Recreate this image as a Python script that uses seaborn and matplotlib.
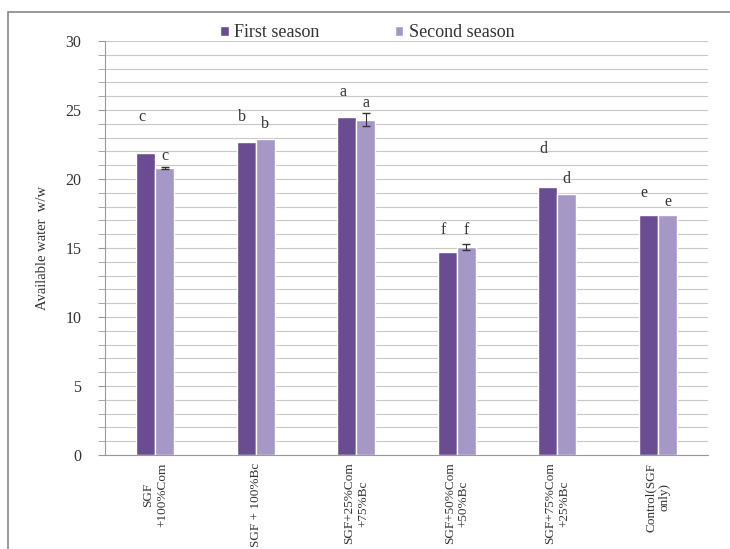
import numpy as np
import pandas as pd
import matplotlib
matplotlib.use("Agg")
import matplotlib.pyplot as plt
import seaborn as sns
from matplotlib.patches import Rectangle

treatments = ["SGF\n+100%Com", "SGF + 100%Bc", "SGF+25%Com\n+75%Bc",
              "SGF+50%Com\n+50%Bc", "SGF+75%Com\n+25%Bc", "Control(SGF\nonly)"]
first_season = [21.9, 22.7, 24.5, 14.7, 19.45, 17.4]
second_season = [20.8, 22.9, 24.3, 15.1, 18.95, 17.4]
first_err = [0.0, 0.0, 0.0, 0.0, 0.0, 0.0]
second_err = [0.08, 0.0, 0.45, 0.22, 0.0, 0.0]
first_letters = ["c", "b", "a", "f", "d", "e"]
second_letters = ["c", "b", "a", "f", "d", "e"]
first_letter_y = [24.5, 24.5, 26.3, 16.3, 22.2, 19.0]
second_letter_y = [21.7, 24.0, 25.5, 16.3, 20.0, 18.3]

df = pd.DataFrame({
    "treatment": treatments * 2,
    "value": first_season + second_season,
    "season": ["First season"] * 6 + ["Second season"] * 6,
})

sns.set_style("white")
plt.rcParams["font.family"] = ["Liberation Serif", "DejaVu Serif"]

fig = plt.figure(figsize=(7.3, 5.49), dpi=100)
ax = fig.add_axes([0.1438, 0.1712, 0.8262, 0.7541])

colors = ["#6a4c93", "#a597c6"]
sns.barplot(data=df, x="treatment", y="value", hue="season", palette=colors,
            width=0.38, errorbar=None, ax=ax, saturation=1)

# bar centres from the drawn patches
bars = ax.patches[:12]
xs1 = [b.get_x() + b.get_width() / 2 for b in bars[:6]]
xs2 = [b.get_x() + b.get_width() / 2 for b in bars[6:12]]
for xs, vals, errs in [(xs1, first_season, first_err), (xs2, second_season, second_err)]:
    for x, v, e in zip(xs, vals, errs):
        if e > 0:
            ax.errorbar([x], [v], yerr=[e], fmt="none", ecolor="#333333",
                        elinewidth=0.8, capsize=3)

for x, y, t in zip(xs1, first_letter_y, first_letters):
    ax.text(x - 0.04, y, t, ha="center", va="center", fontsize=11.5, color="#333333")
for x, y, t in zip(xs2, second_letter_y, second_letters):
    ax.text(x, y, t, ha="center", va="center", fontsize=11.5, color="#333333")

ax.set_ylim(0, 30)
ax.set_xlim(-0.5, 5.5)
ax.set_yticks(np.arange(0, 31, 5))
ax.set_yticks(np.arange(0, 31, 1), minor=True)
ax.grid(axis="y", which="both", color="#c8c8c8", linewidth=0.8)
ax.set_axisbelow(True)
ax.tick_params(axis="y", which="both", left=True, length=5, color="#999999",
               labelsize=11.5, labelcolor="#333333", pad=12)
ax.tick_params(axis="x", bottom=False, labelsize=9.5, labelcolor="#333333", pad=2)
plt.setp(ax.get_xticklabels(), rotation=90, va="top", ha="center", multialignment="center")
ax.set_xlabel("")
ax.set_ylabel("Available water  w/w", fontsize=10.5, color="#333333", labelpad=12)

for s in ["top", "right"]:
    ax.spines[s].set_visible(False)
ax.spines["left"].set_color("#999999")
ax.spines["bottom"].set_color("#999999")

leg = ax.legend(loc="upper center", bbox_to_anchor=(0.435, 1.08), ncol=2, frameon=False,
                fontsize=13, handlelength=0.45, handleheight=0.45, columnspacing=4.2,
                handletextpad=0.3)
for t in leg.get_texts():
    t.set_color("#333333")

fig.patches.append(Rectangle((0.011, -0.1), 1.2, 1.078, transform=fig.transFigure,
                             fill=False, edgecolor="#888888", linewidth=1.2))

fig.savefig("out.png", dpi=100)
